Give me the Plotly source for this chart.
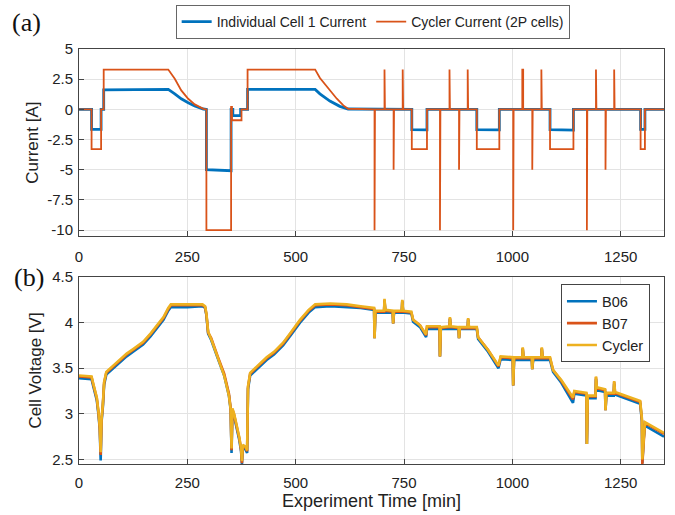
import plotly.graph_objects as go
from plotly.subplots import make_subplots

# ---------------- Panel (a): currents ----------------
t_cycler_i = [0, 29, 29, 51, 51, 57, 57, 206, 221, 236, 252, 267, 287, 294, 294, 351, 351, 353, 353, 375, 375, 389, 389,
              545, 556, 579, 595, 610, 621, 682, 682, 683, 683, 705, 705, 706, 706, 726, 726, 727, 727,
              747, 747, 748, 748, 768, 768, 803, 803, 833, 833, 834, 834, 855, 855, 856, 856, 877, 877, 878, 878,
              897, 897, 898, 898, 918, 918, 970, 970, 1002, 1002, 1003, 1003, 1023, 1023, 1025, 1025,
              1046, 1046, 1047, 1047, 1067, 1067, 1068, 1068, 1087, 1087, 1141, 1141, 1172, 1172, 1173, 1173,
              1193, 1193, 1194, 1194, 1215, 1215, 1216, 1216, 1235, 1235, 1236, 1236, 1296, 1296, 1306, 1306, 1350]
i_cycler = [0, 0, -3.3, -3.3, 0, 0, 3.3, 3.3, 2.53, 1.57, 0.88, 0.41, 0.05, 0, -10, -10, 0.2, 0.2, -0.9, -0.9, 0, 0, 3.3,
            3.3, 2.6, 1.57, 0.88, 0.33, 0.05, 0, -10, -10, 0, 0, 3.3, 3.3, 0, 0, -5, -5, 0,
            0, 3.3, 3.3, 0, 0, -3.3, -3.3, 0, 0, -10, -10, 0, 0, 3.3, 3.3, 0, 0, -5, -5, 0,
            0, 3.3, 3.3, 0, 0, -3.3, -3.3, 0, 0, -10, -10, 0, 0, 3.3, 3.3, 0,
            0, -5, -5, 0, 0, 3.3, 3.3, 0, 0, -3.3, -3.3, 0, 0, -10, -10, 0,
            0, 3.3, 3.3, 0, 0, -5, -5, 0, 0, 3.3, 3.3, 0, 0, -3.3, -3.3, 0, 0]

t_cell_i = [0, 29, 29, 51, 51, 57, 57, 206, 221, 236, 252, 267, 287, 294, 294, 351, 351, 355, 355, 373, 373, 389, 389,
            545, 556, 579, 602, 621, 768, 768, 803, 803, 918, 918, 970, 970, 1087, 1087, 1141, 1141,
            1296, 1296, 1306, 1306, 1350]
i_cell = [0, 0, -1.66, -1.66, 0, 0, 1.62, 1.65, 1.29, 0.88, 0.55, 0.28, 0.03, 0, -5.0, -5.08, 0, 0, -0.52, -0.52, 0, 0, 1.65,
          1.65, 1.29, 0.69, 0.25, 0.03, 0, -1.68, -1.70, 0, 0, -1.68, -1.70, 0, 0, -1.68, -1.72, 0,
          0, -1.65, -1.65, 0, 0]

# ---------------- Panel (b): voltages ----------------
t_v = [0, 29, 33, 37, 41, 45, 48, 50, 52, 55, 58, 63, 80, 95, 110, 125, 148, 165, 179, 195, 206, 212, 250, 285,
       291, 294, 298, 305, 320, 335, 346, 350, 352, 354, 358, 364, 370, 374, 376, 378, 384, 388, 390, 395,
       410, 433, 450, 471, 490, 510, 530, 545, 580, 618, 650, 681, 682, 684, 704, 705, 707, 724, 725, 727,
       745, 746, 748, 767, 771, 787, 801, 803, 832, 833, 835, 855, 856, 858, 876, 877, 879, 897, 898, 900,
       918, 921, 944, 968, 973, 1001, 1002, 1004, 1023, 1024, 1026, 1045, 1046, 1048, 1067, 1068, 1070,
       1087, 1094, 1113, 1140, 1143, 1171, 1172, 1174, 1192, 1193, 1195, 1214, 1215, 1217, 1234, 1235, 1237,
       1295, 1299, 1300, 1303, 1306, 1350]
v_cycler = [3.42, 3.41, 3.33, 3.26, 3.18, 3.02, 2.85, 2.58, 2.94, 3.10, 3.35, 3.46, 3.53, 3.60, 3.66, 3.71, 3.79, 3.88, 3.96, 4.06, 4.16, 4.20, 4.20, 4.20,
            4.18, 4.10, 3.90, 3.82, 3.62, 3.42, 3.20, 3.05, 2.62, 3.06, 3.00, 2.88, 2.74, 2.62, 2.48, 2.66, 2.64, 2.60, 3.30, 3.45,
            3.52, 3.62, 3.68, 3.78, 3.90, 4.03, 4.14, 4.20, 4.21, 4.20, 4.18, 4.16, 3.83, 4.13, 4.13, 4.26, 4.14, 4.13, 3.99, 4.13,
            4.13, 4.25, 4.13, 4.12, 4.03, 3.97, 3.87, 3.96, 3.96, 3.63, 3.95, 3.96, 4.06, 3.96, 3.95, 3.83, 3.95, 3.95, 4.05, 3.95,
            3.95, 3.84, 3.70, 3.53, 3.63, 3.62, 3.31, 3.62, 3.62, 3.73, 3.62, 3.62, 3.49, 3.62, 3.62, 3.73, 3.62,
            3.62, 3.48, 3.37, 3.18, 3.25, 3.23, 2.67, 3.20, 3.20, 3.41, 3.29, 3.27, 3.04, 3.23, 3.23, 3.36, 3.24,
            3.14, 2.95, 2.50, 2.76, 2.91, 2.79]
v_b07 = [3.41, 3.40, 3.32, 3.25, 3.17, 3.01, 2.84, 2.55, 2.93, 3.09, 3.34, 3.45, 3.52, 3.59, 3.65, 3.70, 3.78, 3.87, 3.95, 4.05, 4.15, 4.19, 4.19, 4.19,
         4.17, 4.09, 3.89, 3.83, 3.63, 3.44, 3.22, 3.06, 2.60, 3.05, 2.99, 2.87, 2.73, 2.61, 2.46, 2.65, 2.63, 2.59, 3.29, 3.44,
         3.51, 3.61, 3.67, 3.77, 3.89, 4.02, 4.13, 4.19, 4.20, 4.19, 4.17, 4.15, 3.83, 4.12, 4.12, 4.25, 4.13, 4.12, 3.99, 4.12,
         4.12, 4.24, 4.12, 4.11, 4.03, 3.97, 3.86, 3.95, 3.95, 3.63, 3.94, 3.95, 4.05, 3.95, 3.94, 3.83, 3.94, 3.94, 4.04, 3.94,
         3.94, 3.84, 3.70, 3.52, 3.62, 3.61, 3.31, 3.61, 3.61, 3.72, 3.61, 3.61, 3.49, 3.61, 3.61, 3.72, 3.61,
         3.61, 3.48, 3.36, 3.16, 3.24, 3.22, 2.67, 3.19, 3.19, 3.40, 3.28, 3.26, 3.04, 3.22, 3.22, 3.35, 3.23,
         3.13, 2.93, 2.45, 2.74, 2.90, 2.78]
v_b06 = [3.39, 3.38, 3.30, 3.23, 3.15, 2.99, 2.82, 2.49, 2.91, 3.07, 3.32, 3.43, 3.50, 3.57, 3.63, 3.68, 3.76, 3.85, 3.93, 4.03, 4.13, 4.17, 4.17, 4.18,
         4.16, 4.08, 3.88, 3.81, 3.61, 3.42, 3.20, 3.04, 2.57, 3.03, 2.97, 2.85, 2.71, 2.59, 2.45, 2.63, 2.61, 2.57, 3.27, 3.42,
         3.49, 3.59, 3.65, 3.75, 3.87, 4.00, 4.11, 4.17, 4.18, 4.17, 4.16, 4.14, 3.83, 4.11, 4.11, 4.24, 4.11, 4.11, 3.99, 4.11,
         4.11, 4.23, 4.11, 4.10, 4.01, 3.95, 3.84, 3.93, 3.93, 3.63, 3.93, 3.93, 4.04, 3.93, 3.93, 3.83, 3.93, 3.93, 4.03, 3.93,
         3.93, 3.82, 3.68, 3.50, 3.60, 3.59, 3.31, 3.59, 3.59, 3.71, 3.59, 3.59, 3.49, 3.59, 3.59, 3.71, 3.59,
         3.59, 3.46, 3.34, 3.12, 3.22, 3.20, 2.67, 3.17, 3.17, 3.38, 3.26, 3.24, 3.04, 3.20, 3.20, 3.33, 3.21,
         3.11, 2.92, 2.46, 2.72, 2.87, 2.75]

x_ticks = [0, 250, 500, 750, 1000, 1250]
i_ticks = [5, 2.5, 0, -2.5, -5, -7.5, -10]
i_tick_text = ["5", "2.5", "0", "-2.5", "-5", "-7.5", "-10"]
v_ticks = [2.5, 3, 3.5, 4, 4.5]
v_tick_text = ["2.5", "3", "3.5", "4", "4.5"]

BLUE = "#0072BD"
ORANGE = "#D95319"
YELLOW = "#EDB120"
FONT = "Liberation Sans, Arial, sans-serif"

fig = make_subplots(rows=2, cols=1, shared_xaxes=False, vertical_spacing=0.0)

fig.add_trace(go.Scatter(x=t_cell_i, y=i_cell, mode="lines", name="Individual Cell 1 Current",
                         line=dict(color=BLUE, width=2.8), legend="legend"), row=1, col=1)
fig.add_trace(go.Scatter(x=t_cycler_i, y=i_cycler, mode="lines", name="Cycler Current (2P cells)",
                         line=dict(color=ORANGE, width=1.8), legend="legend"), row=1, col=1)

fig.add_trace(go.Scatter(x=t_v, y=v_b06, mode="lines", name="B06",
                         line=dict(color=BLUE, width=2.6), legend="legend2"), row=2, col=1)
fig.add_trace(go.Scatter(x=t_v, y=v_b07, mode="lines", name="B07",
                         line=dict(color=ORANGE, width=2.6), legend="legend2"), row=2, col=1)
fig.add_trace(go.Scatter(x=t_v, y=v_cycler, mode="lines", name="Cycler",
                         line=dict(color=YELLOW, width=2.6), legend="legend2"), row=2, col=1)

axis_common = dict(showline=True, linecolor="#444", linewidth=1, mirror=True,
                   ticks="inside", ticklen=5, tickcolor="#444",
                   showgrid=True, gridcolor="#e3e3e3", gridwidth=1, zeroline=False,
                   tickfont=dict(family=FONT, size=15, color="#222"))

fig.update_xaxes(range=[0, 1350], tickvals=x_ticks, **axis_common)
fig.update_xaxes(domain=[0, 1], ticklabelstandoff=7, row=1, col=1)
fig.update_xaxes(domain=[0, 1], ticklabelstandoff=5, row=2, col=1,
                 title=dict(text="Experiment Time [min]", font=dict(family=FONT, size=18, color="#222"), standoff=0))
fig.update_yaxes(ticklabelstandoff=2, **axis_common)
fig.update_yaxes(range=[-10.5, 5], tickvals=i_ticks, ticktext=i_tick_text, domain=[0.549, 1.0], row=1, col=1,
                 title=dict(text="Current [A]", font=dict(family=FONT, size=17, color="#222"), standoff=4))
fig.update_yaxes(range=[2.45, 4.5], tickvals=v_ticks, ticktext=v_tick_text, domain=[0.0, 0.4506], row=2, col=1,
                 title=dict(text="Cell Voltage [V]", font=dict(family=FONT, size=17, color="#222"), standoff=6))

fig.update_layout(
    width=675, height=515,
    margin=dict(l=79, r=11, t=49, b=51, autoexpand=False),
    paper_bgcolor="white", plot_bgcolor="white",
    font=dict(family=FONT, color="#222"),
    legend=dict(orientation="h", x=0.502, xanchor="center", y=1.106, yanchor="top",
                bordercolor="#666", borderwidth=1, bgcolor="white",
                font=dict(family=FONT, size=14, color="#222"),
                itemwidth=30, tracegroupgap=0),
    legend2=dict(orientation="v", x=0.976, xanchor="right", y=0.433, yanchor="top",
                 bordercolor="#444", borderwidth=1, bgcolor="white",
                 font=dict(family=FONT, size=14.5, color="#222"),
                 itemwidth=30, tracegroupgap=0),
    annotations=[
        dict(text="(a)", xref="paper", yref="paper", x=-0.118, y=1.063, xanchor="left", yanchor="middle",
             showarrow=False, font=dict(family="Liberation Serif, Times New Roman, serif", size=26, color="#111")),
        dict(text="(b)", xref="paper", yref="paper", x=-0.115, y=0.4506, xanchor="left", yanchor="middle",
             showarrow=False, font=dict(family="Liberation Serif, Times New Roman, serif", size=26, color="#111")),
    ],
)

fig.write_html("out.html")
